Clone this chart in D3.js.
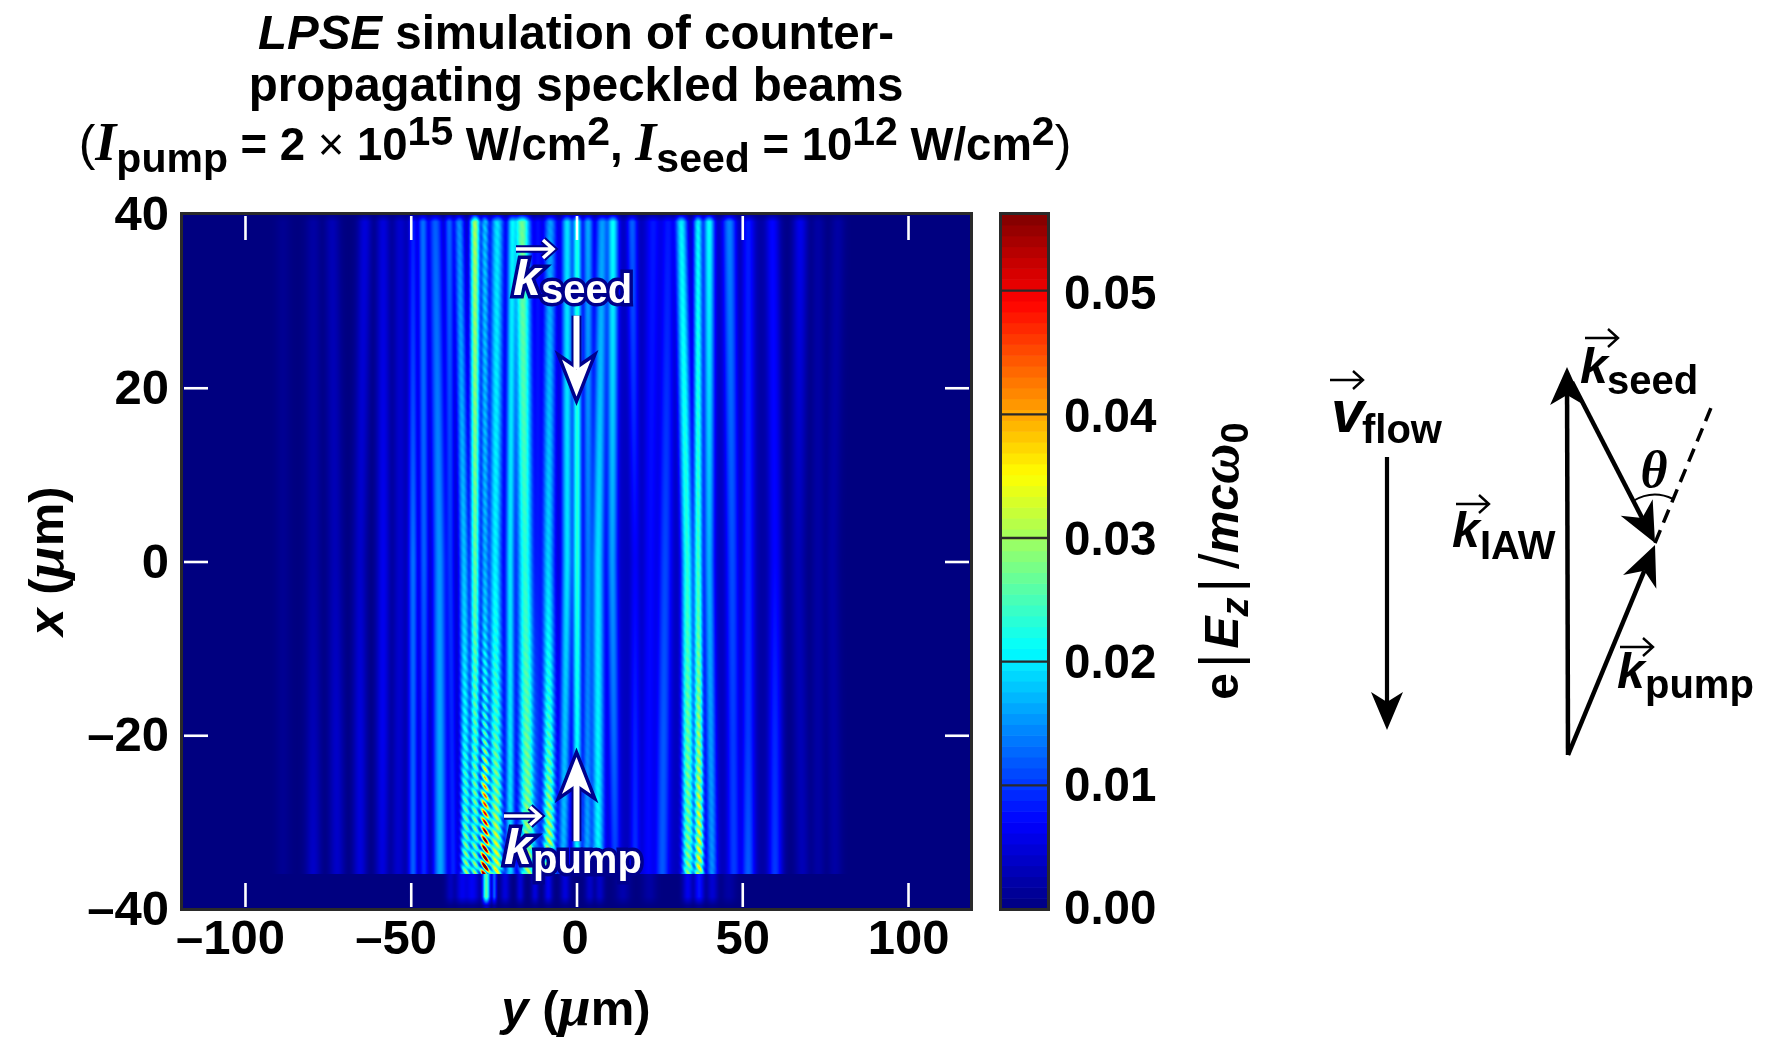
<!DOCTYPE html>
<html><head><meta charset="utf-8">
<script src="https://cdn.jsdelivr.net/npm/d3@7"></script>
<style>
html,body{margin:0;padding:0;background:#fff;width:1767px;height:1037px;overflow:hidden}
#wrap{position:relative;width:1767px;height:1037px}
canvas{position:absolute}
svg{position:absolute;left:0;top:0}
text{font-family:"Liberation Sans",Arial,sans-serif;font-weight:700;fill:#000}
.serif{font-family:"Liberation Serif",serif}
</style></head><body><div id="wrap"><canvas id="heat"></canvas><svg id="svg" width="1767" height="1037"></svg></div>
<script>
// ---- Data ----
const xTicks=[-100,-50,0,50,100];
const yTicks=[40,20,0,-20,-40];
const cbTicks=[0,0.01,0.02,0.03,0.04,0.05];
const yDomain=[-119,119], xDomain=[-40,40], valueMax=0.0562;
// beam centre (um) at x = 40, 0, -36
const beamYTop=[-88.5,-79.4,-73.7,-63.8,-58.3,-53.2,-49.3,-46.3,-42.6,-38.4,-35.4,-30.6,-27.6,-23.9,-19.4,-16.4,-11.6,-7.9,-2.8,0.2,3.5,7.8,11.0,16.8,23.1,27.7,31.6,36.7,40.0,46.1,51.8,59.1,67.5,72.9,78.9];
const beamYMid=[-88.5,-79.4,-72.8,-65.3,-58.3,-53.2,-49.3,-46.0,-41.4,-38.1,-33.9,-30.6,-27.6,-24.5,-20.0,-15.5,-11.6,-8.5,-2.8,0.2,3.5,6.5,10.8,17.7,22.2,26.8,33.4,36.7,40.0,47.0,51.8,59.9,66.9,72.9,77.2];
const beamYBot=[-88.5,-79.4,-72.2,-65.3,-58.6,-53.8,-49.3,-46.0,-41.1,-37.2,-33.3,-30.6,-27.6,-24.2,-20.0,-14.6,-11.6,-8.2,-4.0,0.2,3.2,6.5,11.7,17.7,21.6,25.9,33.7,37.0,40.9,47.5,51.8,59.9,68.1,72.9,78.0];
// beam amplitude at x = 40, 0, -20, -36
const ampTop=[.001,.002,.003,.005,.005,.004,.008,.013,.012,.012,.014,.030,.017,.019,.019,.027,.007,.015,.019,.022,.016,.015,.021,.012,.007,.007,.020,.020,.021,.014,.008,.007,.006,.002,.002];
const ampMid=[.001,.002,.003,.004,.006,.004,.013,.012,.015,.009,.017,.026,.016,.020,.019,.023,.007,.018,.019,.023,.013,.019,.015,.006,.006,.010,.023,.024,.016,.011,.009,.007,.003,.002,.002];
const ampLow=[.001,.003,.004,.005,.006,.004,.012,.010,.016,.008,.020,.024,.021,.024,.019,.026,.008,.023,.017,.021,.014,.020,.012,.008,.006,.011,.026,.028,.015,.010,.010,.009,.003,.002,.002];
const ampBot=[.001,.004,.004,.005,.005,.004,.012,.009,.016,.008,.025,.024,.046,.030,.018,.028,.008,.030,.016,.020,.016,.020,.009,.009,.006,.011,.026,.031,.014,.010,.012,.010,.003,.002,.002];
const beamWidth=[1.6,1.6,1.6,1.5,1.5,1.5,1.1,1.15,1.6,1.05,1.15,1.1,1.0,1.5,1.1,1.85,1.15,1.45,1.25,1.05,1.2,1.45,1.25,1.25,1.7,1.6,1.35,1.05,1.25,1.6,1.6,1.6,1.6,1.5,1.5];
const beamRipple=[0,0,0,0,0,0,0,0,0,0,.24,.26,.6,.24,.03,.14,0,.22,.03,.03,.03,.03,0,0,0,0,.14,.2,.03,0,0,0,0,0,0];
// broad glow under the beams
const glowY=[-50,-35,-20,-5,10,25,40,55];
const glowA=[.002,.004,.0045,.0045,.0045,.0045,.004,.002];
const glowW=[5,6,6,6,6,6,6,5];
// weak stripes below the plateau edge (x < -36)
const lowY=[-38,-34.5,-31.5,-27.2,-24.8,-21.5,-17,-12.5,-8.5,-3.4,4,7,14,22,33.6,37,41,46];
const lowA=[.0035,.006,.0065,.026,.012,.005,.005,.005,.006,.005,.004,.004,.0025,.002,.006,.008,.0045,.002];
const lowW=[1,1.4,1.6,.8,.55,1,.8,.8,.9,1,1,1,1.5,1.5,1.1,1.1,1.2,1.5];

// ---- Layout ----
const L=182,R=971,T=214,B=909;
const x=d3.scaleLinear().domain(yDomain).range([L,R]);
const y=d3.scaleLinear().domain(xDomain).range([B,T]);
const cbY=d3.scaleLinear().domain([0,valueMax]).range([B,T]);
const cbLabelY=d3.scaleLinear().domain([0,0.05]).range([907,292]);
const jet=t=>{const c=v=>Math.round(255*Math.max(0,Math.min(1,1.5-Math.abs(4*v))));
  return [c(t-.75),c(t-.5),c(t-.25)];};
const color=d3.scaleLinear().domain([0,valueMax]).range([0,1]).clamp(true);

// ---- Heat map ----
const cv=document.getElementById('heat');
const W=R-L,H=B-T;cv.width=W;cv.height=H;cv.style.left=L+'px';cv.style.top=T+'px';
const ctx=cv.getContext('2d');const img=ctx.createImageData(W,H);
const posLevels=[40,0,-36],ampLevels=[40,0,-20,-36];
const beams=beamYTop.map((_,i)=>({
  pos:d3.scaleLinear().domain(posLevels).range([beamYTop[i],beamYMid[i],beamYBot[i]]),
  amp:d3.scaleLinear().domain(ampLevels).range([ampTop[i],ampMid[i],ampLow[i],ampBot[i]]),
  w:beamWidth[i],rip:beamRipple[i]}));
const ripFade=d3.scaleLinear().domain([-5,-20,-36]).range([.1,.45,1]).clamp(true);
const topFade=d3.scaleLinear().domain([40,39.1]).range([.15,1]).clamp(true);
const botFade=d3.scaleLinear().domain([-38.6,-39.6]).range([1,.15]).clamp(true);
for(let j=0;j<H;j++){const xu=y.invert(T+j+.5);
  for(let i=0;i<W;i++){const yu=x.invert(L+i+.5);let s=0;
    if(xu>-36){
      for(const b of beams){const d=(yu-b.pos(xu))/b.w;if(Math.abs(d)>4)continue;
        const m=b.rip*ripFade(xu)*Math.cos(2*Math.PI*(xu/1.02+yu*0.42));
        const a=b.amp(xu)*(1+m)*Math.exp(-.5*d*d);s+=a*a;}
      for(let k=0;k<glowY.length;k++){const d=(yu-glowY[k])/glowW[k];
        const a=glowA[k]*Math.exp(-.5*d*d);s+=a*a;}
      s=Math.sqrt(s)*topFade(xu);
    }else{
      for(let k=0;k<lowY.length;k++){const d=(yu-lowY[k])/lowW[k];if(Math.abs(d)>4)continue;
        const a=lowA[k]*Math.exp(-.5*d*d);s+=a*a;}
      s=Math.sqrt(s)*botFade(xu);
    }
    const c=jet(color(s));
    const p=4*(j*W+i);img.data[p]=c[0];img.data[p+1]=c[1];img.data[p+2]=c[2];img.data[p+3]=255;
  }}
ctx.putImageData(img,0,0);

// ---- SVG ----
const svg=d3.select('#svg');
const FS=48;
function rich(sel,parts,attrs){
  const t=sel.append('text');
  Object.entries(attrs||{}).forEach(([k,v])=>t.attr(k,v));
  parts.forEach(p=>{const s=t.append('tspan').text(p.t);
    if(p.it)s.style('font-style','italic');
    if(p.serif)s.attr('class','serif');
    if(p.fs)s.style('font-size',p.fs+'px');
    if(p.w)s.style('font-weight',p.w);
    if(p.dy)s.attr('dy',p.dy);
    if(p.dx)s.attr('dx',p.dx);});
  return t;}

// frame and axes
const g=svg.append('g');
const styleAxis=a=>{a.select('.domain').remove();
  a.selectAll('.tick text').style('font-size','49px').style('font-family','"Liberation Sans",sans-serif').style('font-weight',700).attr('fill','#000');
  a.selectAll('.tick line').attr('stroke','#fff').attr('stroke-width',2.6);};
const fmt=d=>(d<0?'\u2013':'')+Math.abs(d);
const mkX=(gen,ty)=>{const a=g.append('g').attr('transform',`translate(0,${ty})`).call(gen);styleAxis(a);return a;};
const ax=mkX(d3.axisBottom(x).tickValues(xTicks).tickFormat(fmt).tickSize(-24).tickPadding(12),B-2);
ax.selectAll('.tick text').attr('dx',d=>d<0?-15:(d===0?-2:0));
const axT=mkX(d3.axisTop(x).tickValues(xTicks).tickFormat('').tickSize(-24),T+2);
const ay=g.append('g').attr('transform',`translate(${L+2},0)`).call(d3.axisLeft(y).tickValues(yTicks).tickFormat(fmt).tickSize(-24).tickPadding(15));styleAxis(ay);
const ayR=g.append('g').attr('transform',`translate(${R-2},0)`).call(d3.axisRight(y).tickValues(yTicks).tickFormat('').tickSize(-24));styleAxis(ayR);
[ay,ayR].forEach(a=>a.selectAll('.tick').filter(d=>Math.abs(d)===40).select('line').remove());
g.append('rect').attr('x',L-.5).attr('y',T-.5).attr('width',W+1).attr('height',H+1).attr('fill','none').attr('stroke','#2a2a2a').attr('stroke-width',3);

// colour bar
const cb=svg.append('g');const nLev=64;const cbX0=1001,cbW=47;
cb.selectAll('rect.lev').data(d3.range(nLev)).join('rect').attr('class','lev')
  .attr('x',cbX0).attr('width',cbW)
  .attr('y',d=>cbY((d+1)/nLev*valueMax)).attr('height',d=>cbY(d/nLev*valueMax)-cbY((d+1)/nLev*valueMax)+.6)
  .attr('fill',d=>{const c=jet((d+.5)/nLev);return `rgb(${c})`;});
cb.selectAll('line').data(cbTicks.slice(1)).join('line').attr('x1',cbX0).attr('x2',cbX0+cbW)
  .attr('y1',d=>cbY(d)).attr('y2',d=>cbY(d)).attr('stroke','#2a2a2a').attr('stroke-width',2.4);
cb.append('rect').attr('x',cbX0-.5).attr('y',T-.5).attr('width',cbW+1).attr('height',H+1).attr('fill','none').attr('stroke','#2a2a2a').attr('stroke-width',3);
cb.selectAll('text').data(cbTicks).join('text').attr('x',1064).attr('y',d=>cbLabelY(d)).attr('dy','.36em')
  .style('font-size','47.5px').text(d=>d.toFixed(2));

// titles
const TS=47.5;
rich(svg,[{t:'LPSE',it:1},{t:' simulation of counter-'}],{x:576,y:49,'text-anchor':'middle','font-size':TS});
rich(svg,[{t:'propagating speckled beams'}],{x:576,y:101,'text-anchor':'middle','font-size':TS});
rich(svg,[{t:'(',w:400,fs:50},{t:'I',it:1,serif:1,fs:54},{t:'pump',fs:41,dy:12},{t:' = 2 ',dy:-12},{t:'\u00d7',w:400},{t:' 10'},{t:'15',fs:41,dy:-15},{t:' W/cm',dy:15},{t:'2',fs:41,dy:-15},{t:', ',dy:15},{t:'I',it:1,serif:1,fs:54},{t:'seed',fs:41,dy:12},{t:' = 10',dy:-12},{t:'12',fs:41,dy:-15},{t:' W/cm',dy:15},{t:'2',fs:41,dy:-15},{t:')',w:400,fs:50,dy:15}],{x:575,y:160,'text-anchor':'middle','font-size':45.5});

rich(svg,[{t:'y',it:1},{t:' ('},{t:'\u03bc',it:1,serif:1,fs:58},{t:'m)'}],{x:576,y:1025,'text-anchor':'middle','font-size':FS+1});
rich(svg,[{t:'x',it:1},{t:' ('},{t:'\u03bc',it:1,serif:1,fs:58},{t:'m)'}],{transform:'translate(63,561) rotate(-90)','text-anchor':'middle','font-size':FS+1});
rich(svg,[{t:'e'},{t:'|',w:400,fs:56,dx:5},{t:'E',it:1,dx:5},{t:'z',it:1,fs:38,dy:10},{t:'|',w:400,fs:56,dy:-10,dx:5},{t:'/',w:400,fs:56,dx:9},{t:'mc',it:1},{t:'\u03c9',it:1,serif:1,fs:56},{t:'0',fs:38,dy:10}],{transform:'translate(1238,561) rotate(-90)','text-anchor':'middle','font-size':FS});

// arrow helpers
const arrowPath=(x1,y1,x2,y2,len,hw,notch)=>{
  const a=Math.atan2(y2-y1,x2-x1),ux=Math.cos(a),uy=Math.sin(a),px=-uy,py=ux;
  const bx=x2-ux*len,by=y2-uy*len,nx=x2-ux*notch,ny=y2-uy*notch;
  return {head:`M${x2},${y2}L${bx+px*hw},${by+py*hw}L${nx},${ny}L${bx-px*hw},${by-py*hw}Z`,shaft:`M${x1},${y1}L${nx},${ny}`};};
const over=(sel,x1,x2,yy,col,halo)=>{
  const d=`M${x1},${yy}H${x2-2}M${x2-10},${yy-9}L${x2},${yy}L${x2-10},${yy+9}`;
  if(halo)sel.append('path').attr('d',d).attr('fill','none').attr('stroke',halo).attr('stroke-width',7.5);
  sel.append('path').attr('d',d).attr('fill','none').attr('stroke',col).attr('stroke-width',halo?3.5:2.4);};
const label=(sel,kx,ky,sub,sx,sy,ax1,ax2,ay0,col,halo,ksym='k',ksize=FS+2)=>{
  over(sel,ax1,ax2,ay0,col,halo);
  [[ksym,kx,ky,ksize,'italic'],[sub,sx,sy,40,'normal']].forEach(([s,a,b,f,st])=>{
    const t=sel.append('text').attr('x',a).attr('y',b).style('font-size',f+'px').style('font-style',st).style('fill',col).text(s);
    if(halo)t.attr('stroke',halo).attr('stroke-width',7).attr('paint-order','stroke').attr('stroke-linejoin','miter');
  });};

// overlay annotations in plot (white arrows along y = 0)
const ov=svg.append('g');
const whiteArrow=(y1,y2)=>{const p=arrowPath(x(0),y(y1),x(0),y(y2),37,14.5,27);
  ov.append('path').attr('d',p.shaft).attr('stroke','#00008c').attr('stroke-width',10).attr('fill','none');
  ov.append('path').attr('d',p.head).attr('fill','#fff').attr('stroke','#00008c').attr('stroke-width',7).attr('paint-order','stroke');
  ov.append('path').attr('d',p.shaft).attr('stroke','#fff').attr('stroke-width',6).attr('fill','none');};
whiteArrow(28.3,19.0);
whiteArrow(-32.2,-22.5);
label(ov,513,295,'seed',541,303,516,553,249,'#fff','#00008c');
label(ov,504,864,'pump',533,873,504,540,816,'#fff','#00008c');

// right-hand diagram
const d=svg.append('g');
const blackArrow=(x1,y1,x2,y2,len,hw,notch,w)=>{const p=arrowPath(x1,y1,x2,y2,len,hw,notch);
  d.append('path').attr('d',p.shaft).attr('stroke','#000').attr('stroke-width',w).attr('fill','none');
  d.append('path').attr('d',p.head).attr('fill','#000');};
blackArrow(1387,457,1387,730,38,16,28,4.2);
blackArrow(1568,755,1567,367,38,17,28,4.5);
blackArrow(1572,382,1655,543,40,18,28,4.5);
blackArrow(1568,755,1655,545,40,18,28,4.5);
d.append('path').attr('d','M1655,543L1713,403').attr('stroke','#000').attr('stroke-width',3.5).attr('stroke-dasharray','14 8').attr('fill','none');
d.append('path').attr('d','M1633,501Q1653,489 1673,499').attr('stroke','#000').attr('stroke-width',2).attr('fill','none');
d.append('text').attr('class','serif').attr('x',1654).attr('y',487).attr('text-anchor','middle').style('font-size','52px').style('font-style','italic').style('font-weight',700).text('\u03b8');
label(d,1331,432,'flow',1362,443,1330,1363,380,'#000',null,'v',60);
label(d,1580,383,'seed',1607,394,1585,1618,338,'#000',null);
label(d,1452,547,'IAW',1480,559,1456,1489,504,'#000',null);
label(d,1617,688,'pump',1645,698,1620,1653,647,'#000',null);
</script></body></html>
